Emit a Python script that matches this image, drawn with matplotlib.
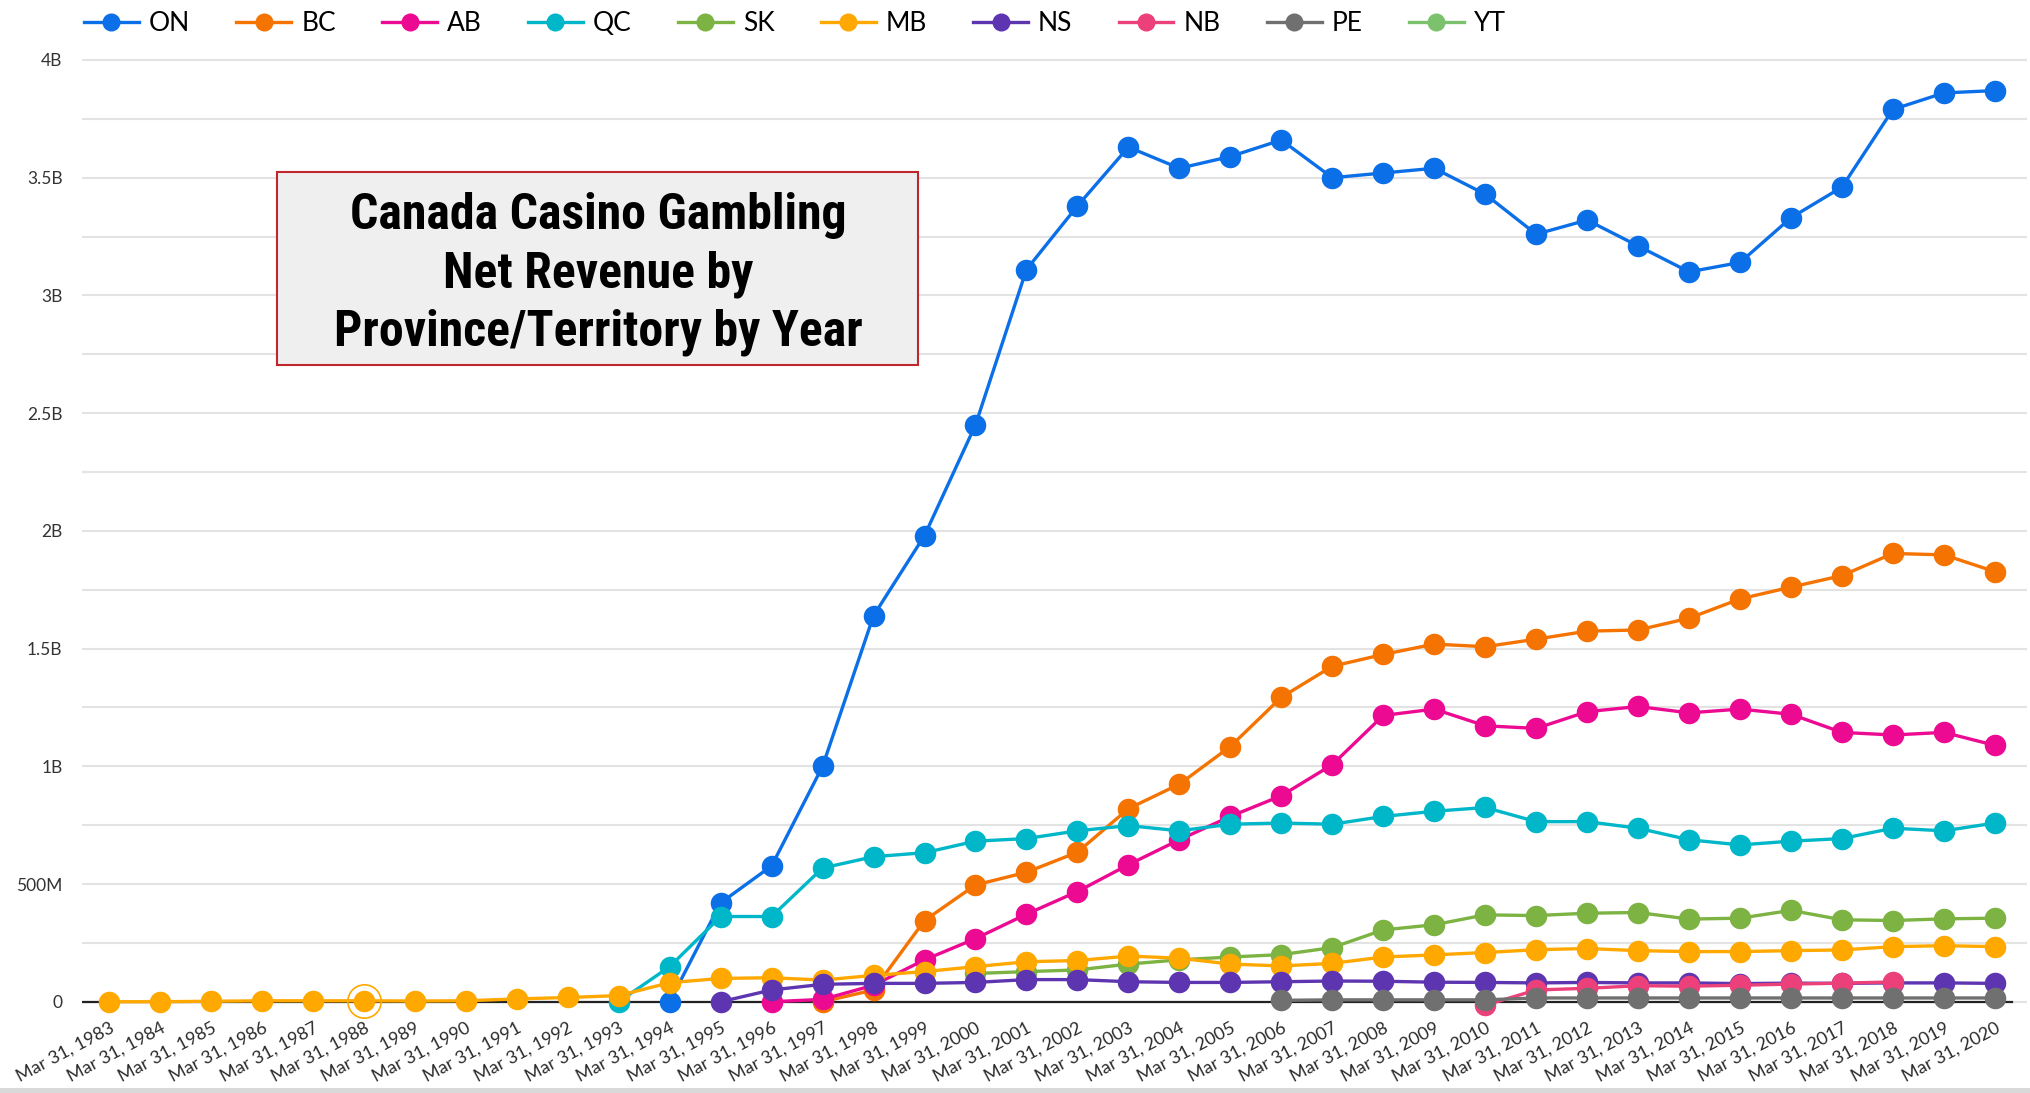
import os
import numpy as np
import matplotlib
matplotlib.use('Agg')
import matplotlib.pyplot as plt
from matplotlib import font_manager as fm
from matplotlib.lines import Line2D
from matplotlib.patches import Rectangle
from matplotlib.ticker import FuncFormatter, MultipleLocator

nan = np.nan

# Data (billions of CAD), fiscal years ending Mar 31
years = list(range(1983, 2021))
tick_labels = ['Mar 31, %d' % y for y in years]

on = [nan] * 11 + [0.0, 0.42, 0.577, 1.00, 1.64, 1.98, 2.45, 3.11, 3.38, 3.63,
                   3.54, 3.59, 3.66, 3.50, 3.52, 3.54, 3.43, 3.26, 3.32, 3.21,
                   3.10, 3.14, 3.33, 3.46, 3.79, 3.86, 3.87]
bc = [nan] * 14 + [0.0, 0.05, 0.345, 0.496, 0.55, 0.635, 0.82, 0.924, 1.084, 1.293,
                   1.425, 1.475, 1.519, 1.508, 1.54, 1.574, 1.579, 1.629, 1.711,
                   1.761, 1.81, 1.904, 1.898, 1.827]
ab = [nan] * 13 + [0.0, 0.01, 0.07, 0.178, 0.268, 0.372, 0.468, 0.582, 0.688, 0.787,
                   0.875, 1.007, 1.216, 1.243, 1.172, 1.161, 1.232, 1.254, 1.227,
                   1.243, 1.221, 1.144, 1.133, 1.144, 1.089]
qc = [nan] * 10 + [0.0, 0.149, 0.362, 0.362, 0.568, 0.616, 0.633, 0.682, 0.693, 0.726,
                   0.748, 0.726, 0.754, 0.759, 0.754, 0.787, 0.809, 0.825, 0.765,
                   0.765, 0.737, 0.688, 0.666, 0.682, 0.693, 0.737, 0.726, 0.759]
sk = [nan] * 17 + [0.12, 0.128, 0.135, 0.16, 0.178, 0.19, 0.2, 0.23, 0.305, 0.327,
                   0.369, 0.366, 0.376, 0.379, 0.351, 0.355, 0.388, 0.348, 0.345,
                   0.352, 0.355]
mb = [0.0, 0.0, 0.002, 0.004, 0.004, 0.004, 0.003, 0.004, 0.012, 0.018, 0.026,
      0.081, 0.099, 0.102, 0.092, 0.112, 0.128, 0.149, 0.17, 0.175, 0.194, 0.185,
      0.16, 0.152, 0.163, 0.19, 0.199, 0.209, 0.221, 0.226, 0.217, 0.213, 0.213,
      0.217, 0.22, 0.234, 0.238, 0.234]
ns = [nan] * 12 + [0.0, 0.05, 0.074, 0.078, 0.078, 0.082, 0.094, 0.094, 0.085, 0.082,
                   0.082, 0.085, 0.088, 0.087, 0.083, 0.082, 0.08, 0.082, 0.08,
                   0.08, 0.077, 0.079, 0.078, 0.08, 0.08, 0.078]
nb = [nan] * 27 + [-0.015, 0.05, 0.057, 0.068, 0.066, 0.07, 0.075, 0.079, 0.084, nan, nan]
pe = [nan] * 23 + [0.006, 0.008, 0.008, 0.008, 0.008, 0.016, 0.016, 0.016, 0.016,
                   0.016, 0.016, 0.016, 0.016, 0.016, 0.016]
yt = [nan] * 38

names = ['ON', 'BC', 'AB', 'QC', 'SK', 'MB', 'NS', 'NB', 'PE', 'YT']
series = [on, bc, ab, qc, sk, mb, ns, nb, pe, yt]
colors = ['#0b6fe8', '#f57300', '#ec0a93', '#00b7c9', '#7cb342',
          '#ffa800', '#5e35b1', '#ec407a', '#707070', '#7cc26e']

title_lines = ['Canada Casino Gambling', 'Net Revenue by', 'Province/Territory by Year']
hover_year = 1988

UI_FONT = ['Lato', 'DejaVu Sans']


def _weight(f):
    w = f.weight
    if isinstance(w, str):
        w = fm.weight_dict.get(w, 400)
    return w


def pick_title_font():
    # the title uses a condensed bold face, take the best one installed
    entries = fm.fontManager.ttflist
    wanted = ['Liberation Sans Narrow', 'DejaVu Sans Condensed', 'Roboto Condensed',
              'Open Sans Condensed', 'Noto Sans Condensed']
    for w in wanted:
        for f in entries:
            if f.name == w and _weight(f) >= 600 and 'Italic' not in f.fname \
                    and f.style == 'normal':
                return fm.FontProperties(fname=f.fname)
    for f in entries:
        base = os.path.basename(f.fname)
        cond = ('Condensed' in base or 'Narrow' in base or
                str(f.stretch) in ('condensed', 'semi-condensed', 'extra-condensed'))
        if cond and _weight(f) >= 600 and f.style == 'normal':
            return fm.FontProperties(fname=f.fname)
    return fm.FontProperties(family=['Roboto', 'DejaVu Sans'], weight='bold')


fig = plt.figure(figsize=(20.31, 10.93), dpi=100)
W, H = 2031, 1093
ax = fig.add_axes([82 / W, (H - 1008.8) / H, (2027 - 82) / W, (1008.8 - 57) / H])

for name, vals, c in zip(names, series, colors):
    ax.plot(years, vals, color=c, lw=2.4, marker='o', ms=15.5,
            markeredgewidth=0, label=name, clip_on=False)

# hover ring on the MB point
i = years.index(hover_year)
ax.plot([hover_year], [mb[i]], marker='o', ms=24, mfc='none', mec=colors[5],
        mew=1.2, clip_on=False)

ax.set_xlim(1982.47, 2020.63)
ax.set_ylim(-0.03, 4.0 + 4.0 * 3 / 950)
ax.axhline(0, xmin=0, xmax=(2012 - 82) / (2027 - 82), color='#222222', lw=1.6, zorder=1)

ax.yaxis.set_major_locator(MultipleLocator(0.5))
ax.yaxis.set_minor_locator(MultipleLocator(0.25))


def fmt(v, pos):
    if abs(v) < 1e-9:
        return '0'
    if v < 1:
        return '%dM' % round(v * 1000)
    return ('%g' % v) + 'B'


ax.yaxis.set_major_formatter(FuncFormatter(fmt))
ax.grid(True, which='both', axis='y', color='#e3e3e3', lw=1.5, zorder=0)
ax.set_axisbelow(True)
for s in ax.spines.values():
    s.set_visible(False)

ax.tick_params(axis='y', which='both', length=0, pad=14, labelsize=12.5,
               labelcolor='#333333')
ax.set_xticks(years)
ax.set_xticklabels(tick_labels, rotation=28, ha='right', va='top',
                   rotation_mode='anchor', fontsize=13, color='#2b2b2b',
                   family=UI_FONT)
ax.tick_params(axis='x', which='both', length=0, pad=8)
for lab in ax.get_yticklabels():
    lab.set_family(UI_FONT)

# legend along the top
handles = [Line2D([], [], color=c, lw=2.4, marker='o', ms=13, markeredgewidth=0)
           for c in colors]
fig.legend(handles, names, ncol=10, loc='center left',
           bbox_to_anchor=(84 / W, 1 - 23.5 / H), frameon=False, borderpad=0,
           borderaxespad=0, handlelength=2.08, handletextpad=0.38,
           columnspacing=1.75, prop={'family': UI_FONT, 'size': 19})

# title box
fig.patches.append(Rectangle((277 / W, (H - 365) / H), 641 / W, 193 / H,
                             transform=fig.transFigure, facecolor='#efefef',
                             edgecolor='#c0272d', lw=1.5, zorder=5))
tfont = pick_title_font()
baselines = [229, 288, 345]
texts = []
for line, b in zip(title_lines, baselines):
    texts.append(fig.text(598 / W, 1 - b / H, line, ha='center', va='baseline',
                          fontproperties=tfont, fontsize=35, zorder=6))
# size the title so its widest line spans about the same width as the original
fig.canvas.draw()
r = fig.canvas.get_renderer()
widest = max(t.get_window_extent(r).width for t in texts)
size = min(35 * 530 / widest, 36)
for t in texts:
    t.set_fontsize(size)

# grey strip at the bottom
fig.patches.append(Rectangle((0, 0), 1, 5 / H, transform=fig.transFigure,
                             facecolor='#d9d9d9', edgecolor='none'))

fig.savefig('out.png', dpi=100)
